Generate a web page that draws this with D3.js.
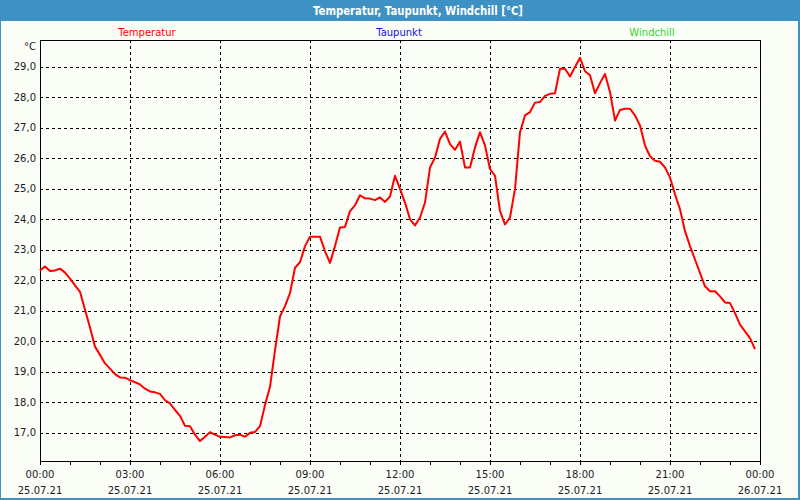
<!DOCTYPE html>
<html>
<head>
<meta charset="utf-8">
<script src="https://cdn.jsdelivr.net/npm/d3@7"></script>
<style>
  html, body { margin: 0; padding: 0; background: #ffffff; }
  svg { display: block; }
  text { font-family: "DejaVu Sans", Verdana, sans-serif; }
</style>
</head>
<body>
<svg id="chart" width="800" height="500"></svg>
<script>
// ---- data ----
const titleText = "Temperatur, Taupunkt, Windchill [°C]";
const seriesNames = ["Temperatur", "Taupunkt", "Windchill"];
const seriesColors = ["#ff0000", "#1010e0", "#2ad82a"];
const startTime = new Date(2021, 6, 25, 0, 0);
const endTime = new Date(2021, 6, 26, 0, 0);
const stepMinutes = 10;
// Temperatur, 10-minute readings 00:00 .. 23:50
const temperatur = [
  22.32, 22.45, 22.30, 22.32, 22.38, 22.25, 22.05, 21.83, 21.62, 21.03,
  20.45, 19.82, 19.55, 19.27, 19.10, 18.92, 18.81, 18.80, 18.72, 18.65,
  18.58, 18.44, 18.35, 18.32, 18.27, 18.06, 17.96, 17.74, 17.55, 17.22,
  17.21, 16.93, 16.72, 16.86, 17.01, 16.93, 16.86, 16.85, 16.84, 16.91,
  16.93, 16.86, 16.99, 17.02, 17.21, 17.90, 18.50, 19.70, 20.81, 21.15,
  21.58, 22.41, 22.59, 23.12, 23.43, 23.43, 23.43, 22.95, 22.57, 23.12,
  23.73, 23.75, 24.27, 24.46, 24.79, 24.69, 24.68, 24.63, 24.72, 24.57,
  24.75, 25.43, 25.00, 24.55, 24.00, 23.80, 24.06, 24.55, 25.70, 26.03,
  26.64, 26.88, 26.47, 26.28, 26.55, 25.70, 25.70, 26.36, 26.86, 26.42,
  25.65, 25.43, 24.27, 23.83, 24.06, 24.99, 26.86, 27.41, 27.52, 27.83,
  27.85, 28.05, 28.12, 28.14, 28.94, 28.94, 28.69, 29.00, 29.30, 28.86,
  28.73, 28.14, 28.47, 28.77, 28.18, 27.24, 27.59, 27.63, 27.63, 27.41,
  27.08, 26.42, 26.07, 25.92, 25.89, 25.70, 25.37, 24.82, 24.33, 23.61,
  23.12, 22.68, 22.24, 21.80, 21.64, 21.64, 21.47, 21.27, 21.25, 20.92,
  20.54, 20.32, 20.10, 19.74
];
const yTickValues = [17, 18, 19, 20, 21, 22, 23, 24, 25, 26, 27, 28, 29];
const yDomain = [16.066, 29.886];
const xTimeLabels = ["00:00", "03:00", "06:00", "09:00", "12:00", "15:00", "18:00", "21:00", "00:00"];
const xDateLabels = ["25.07.21", "25.07.21", "25.07.21", "25.07.21", "25.07.21", "25.07.21", "25.07.21", "25.07.21", "26.07.21"];
const unitLabel = "°C";

// ---- layout ----
const W = 800, H = 500;
const plot = { left: 40, top: 40, right: 760, bottom: 461 };
const svg = d3.select("#chart");

// frame + title bar
svg.append("rect").attr("x", 0).attr("y", 0).attr("width", W).attr("height", H).attr("fill", "#3d91c4");
svg.append("rect").attr("x", 1).attr("y", 21).attr("width", W - 3).attr("height", H - 23).attr("fill", "#fbfef6");
svg.append("text")
  .attr("x", 418).attr("y", 11)
  .attr("text-anchor", "middle").attr("dominant-baseline", "central")
  .attr("fill", "#ffffff").attr("font-weight", "bold").attr("font-size", "12px")
  .attr("textLength", 210).attr("lengthAdjust", "spacingAndGlyphs")
  .text(titleText);

// scales
const x = d3.scaleTime().domain([startTime, endTime]).range([plot.left, plot.right]);
const y = d3.scaleLinear().domain(yDomain).range([plot.bottom, plot.top]);

const points = temperatur.map((v, i) => ({ t: d3.timeMinute.offset(startTime, i * stepMinutes), v }));

// legend
const legendX = [147, 399, 652];
seriesNames.forEach((n, i) => {
  svg.append("text")
    .attr("x", legendX[i]).attr("y", 32)
    .attr("text-anchor", "middle").attr("dominant-baseline", "central")
    .attr("font-size", "10px").attr("fill", seriesColors[i])
    .text(n);
});

// grid
const grid = svg.append("g").attr("stroke", "#000").attr("stroke-width", 1)
  .attr("stroke-dasharray", "3,3").attr("shape-rendering", "crispEdges");
yTickValues.forEach(v => {
  grid.append("line")
    .attr("x1", plot.left).attr("x2", plot.right)
    .attr("y1", Math.round(y(v)) + 0.5).attr("y2", Math.round(y(v)) + 0.5);
});
const majorTicks = d3.timeHour.every(3).range(startTime, d3.timeMinute.offset(endTime, 1));
majorTicks.slice(1, -1).forEach(t => {
  grid.append("line")
    .attr("x1", Math.round(x(t)) + 0.5).attr("x2", Math.round(x(t)) + 0.5)
    .attr("y1", plot.top).attr("y2", plot.bottom);
});

// y labels
const yFmt = d3.format(".1f");
svg.append("g").selectAll("text").data(yTickValues).join("text")
  .attr("x", 36).attr("y", d => y(d))
  .attr("text-anchor", "end").attr("dominant-baseline", "central")
  .attr("font-size", "10px").attr("fill", "#1a1a2a")
  .text(d => yFmt(d).replace(".", ","));
svg.append("text")
  .attr("x", 36).attr("y", 46)
  .attr("text-anchor", "end").attr("dominant-baseline", "central")
  .attr("font-size", "10px").attr("fill", "#1a1a2a")
  .text(unitLabel);

// x axis: hourly ticks below
const xAxis = d3.axisBottom(x)
  .ticks(d3.timeHour.every(1))
  .tickSize(4)
  .tickFormat("");
const gx = svg.append("g").attr("transform", `translate(0,${plot.bottom})`).call(xAxis);
gx.select(".domain").remove();
gx.selectAll("line").attr("stroke", "#000").attr("shape-rendering", "crispEdges");

// x labels
majorTicks.forEach((t, i) => {
  svg.append("text")
    .attr("x", x(t)).attr("y", 474)
    .attr("text-anchor", "middle").attr("dominant-baseline", "central")
    .attr("font-size", "10px").attr("fill", "#1a1a2a")
    .text(xTimeLabels[i]);
  svg.append("text")
    .attr("x", x(t)).attr("y", 490)
    .attr("text-anchor", "middle").attr("dominant-baseline", "central")
    .attr("font-size", "10px").attr("fill", "#1a1a2a")
    .text(xDateLabels[i]);
});

// plot border
svg.append("rect")
  .attr("x", plot.left + 0.5).attr("y", plot.top + 0.5)
  .attr("width", plot.right - plot.left).attr("height", plot.bottom - plot.top)
  .attr("fill", "none").attr("stroke", "#000").attr("stroke-width", 1)
  .attr("shape-rendering", "crispEdges");

// line
const line = d3.line().x(d => x(d.t)).y(d => y(d.v));
svg.append("path").datum(points)
  .attr("d", line)
  .attr("fill", "none").attr("stroke", seriesColors[0]).attr("stroke-width", 2)
  .attr("stroke-linejoin", "round");
</script>
</body>
</html>
